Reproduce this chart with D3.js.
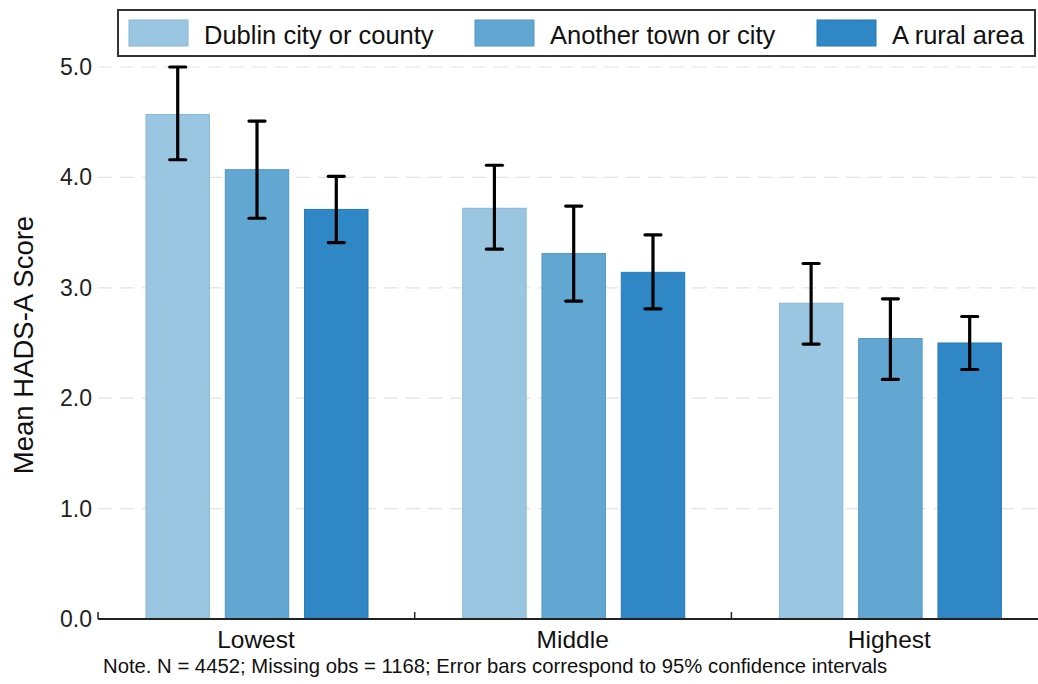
<!DOCTYPE html>
<html>
<head>
<meta charset="utf-8">
<script src="https://cdn.jsdelivr.net/npm/d3@7"></script>
<style>
  html, body { margin: 0; padding: 0; background: #fff; }
  svg { display: block; font-family: "Liberation Sans", Arial, sans-serif; }
</style>
</head>
<body>
<svg id="chart"></svg>
<script>
const groups = ["Lowest", "Middle", "Highest"];
const areas = ["Dublin city or county", "Another town or city", "A rural area"];
const colors = ["#9ac6e1", "#62a7d1", "#2f88c5"];
const strokes = ["#86b8d8", "#4f97c6", "#2479b8"];

// mean score, one row per area, one value per group
const means = [
  [4.57, 3.72, 2.86],
  [4.07, 3.31, 2.54],
  [3.71, 3.14, 2.50],
];
const lower = [
  [4.16, 3.35, 2.49],
  [3.63, 2.88, 2.17],
  [3.41, 2.81, 2.26],
];
const upper = [
  [5.00, 4.11, 3.22],
  [4.51, 3.74, 2.90],
  [4.01, 3.48, 2.74],
];
const yTicks = [0, 1, 2, 3, 4, 5];
const note = "Note. N = 4452; Missing obs = 1168; Error bars correspond to 95% confidence intervals";

const drawChart = (selector) => {
  const width = 1038;
  const height = 684;
  const left = 98;
  const bottom = 619;
  const top = 67;

  const svg = d3.select(selector).attr("width", width).attr("height", height);

  const y = d3.scaleLinear().domain([0, 5]).range([bottom, top]);
  const x0 = d3.scaleBand().domain(groups).range([left, left + 3 * 316.7]).paddingInner(0).paddingOuter(0);
  const x1 = d3.scaleBand().domain(areas).range([48, 270]).paddingInner(0.2);

  // gridlines
  svg.append("g")
    .selectAll("line")
    .data(yTicks.filter((d) => d > 0))
    .enter()
    .append("line")
    .attr("x1", left)
    .attr("x2", width)
    .attr("y1", (d) => y(d))
    .attr("y2", (d) => y(d))
    .attr("stroke", "#e3e3e3")
    .attr("stroke-width", 1.2)
    .attr("stroke-dasharray", "14,8");

  // bars
  const rows = [];
  areas.forEach((a, i) => {
    groups.forEach((g, j) => {
      rows.push({ area: a, group: g, i, mean: means[i][j], lo: lower[i][j], hi: upper[i][j] });
    });
  });

  svg.append("g")
    .selectAll("rect")
    .data(rows)
    .enter()
    .append("rect")
    .attr("x", (d) => x0(d.group) + x1(d.area))
    .attr("y", (d) => y(d.mean))
    .attr("width", x1.bandwidth())
    .attr("height", (d) => y(0) - y(d.mean))
    .attr("fill", (d) => colors[d.i])
    .attr("stroke", (d) => strokes[d.i])
    .attr("stroke-width", 1);

  // error bars
  const err = svg.append("g").attr("stroke", "#000").attr("stroke-width", 3.2);
  const cx = (d) => x0(d.group) + x1(d.area) + x1.bandwidth() / 2;
  err.selectAll(".stem")
    .data(rows)
    .enter()
    .append("line")
    .attr("x1", cx)
    .attr("x2", cx)
    .attr("y1", (d) => y(d.lo))
    .attr("y2", (d) => y(d.hi));
  ["lo", "hi"].forEach((k) => {
    err.selectAll(".cap-" + k)
      .data(rows)
      .enter()
      .append("line")
      .attr("x1", (d) => cx(d) - 8)
      .attr("x2", (d) => cx(d) + 8)
      .attr("y1", (d) => y(d[k]))
      .attr("y2", (d) => y(d[k]))
      .attr("stroke-linecap", "round");
  });

  // y axis labels
  svg.append("g")
    .selectAll("text")
    .data(yTicks)
    .enter()
    .append("text")
    .attr("x", 92)
    .attr("y", (d) => y(d) + 8)
    .attr("text-anchor", "end")
    .attr("font-size", 23)
    .attr("fill", "#222")
    .text((d) => d3.format(".1f")(d));

  // y axis small stub at zero
  svg.append("line")
    .attr("x1", left).attr("x2", left)
    .attr("y1", bottom - 7).attr("y2", bottom)
    .attr("stroke", "#222").attr("stroke-width", 1.5);

  // x axis
  svg.append("line")
    .attr("x1", left).attr("x2", width)
    .attr("y1", bottom).attr("y2", bottom)
    .attr("stroke", "#222").attr("stroke-width", 1.8);

  svg.append("g")
    .selectAll("line")
    .data(groups.slice(1))
    .enter()
    .append("line")
    .attr("x1", (d) => x0(d))
    .attr("x2", (d) => x0(d))
    .attr("y1", bottom - 7)
    .attr("y2", bottom)
    .attr("stroke", "#222")
    .attr("stroke-width", 1.5);

  svg.append("g")
    .selectAll("text")
    .data(groups)
    .enter()
    .append("text")
    .attr("x", (d) => x0(d) + 158)
    .attr("y", 648)
    .attr("text-anchor", "middle")
    .attr("font-size", 24.5)
    .attr("fill", "#111")
    .text((d) => d);

  svg.append("text")
    .attr("transform", "translate(33,345) rotate(-90)")
    .attr("text-anchor", "middle")
    .attr("font-size", 27.5)
    .attr("fill", "#111")
    .text("Mean HADS-A Score");

  svg.append("text")
    .attr("x", 103)
    .attr("y", 673)
    .attr("font-size", 20.3)
    .attr("fill", "#111")
    .text(note);

  // legend
  const legend = svg.append("g");
  legend.append("rect")
    .attr("x", 118).attr("y", 10)
    .attr("width", 917).attr("height", 46)
    .attr("fill", "#fff")
    .attr("stroke", "#333").attr("stroke-width", 2);

  const legX = [129, 475, 817];
  areas.forEach((a, i) => {
    legend.append("rect")
      .attr("x", legX[i]).attr("y", 20)
      .attr("width", 59).attr("height", 26)
      .attr("fill", colors[i])
      .attr("stroke", strokes[i]);
    legend.append("text")
      .attr("x", legX[i] + 75).attr("y", 44)
      .attr("font-size", 25.5)
      .attr("fill", "#111")
      .text(a);
  });
};

drawChart("#chart");
</script>
</body>
</html>
